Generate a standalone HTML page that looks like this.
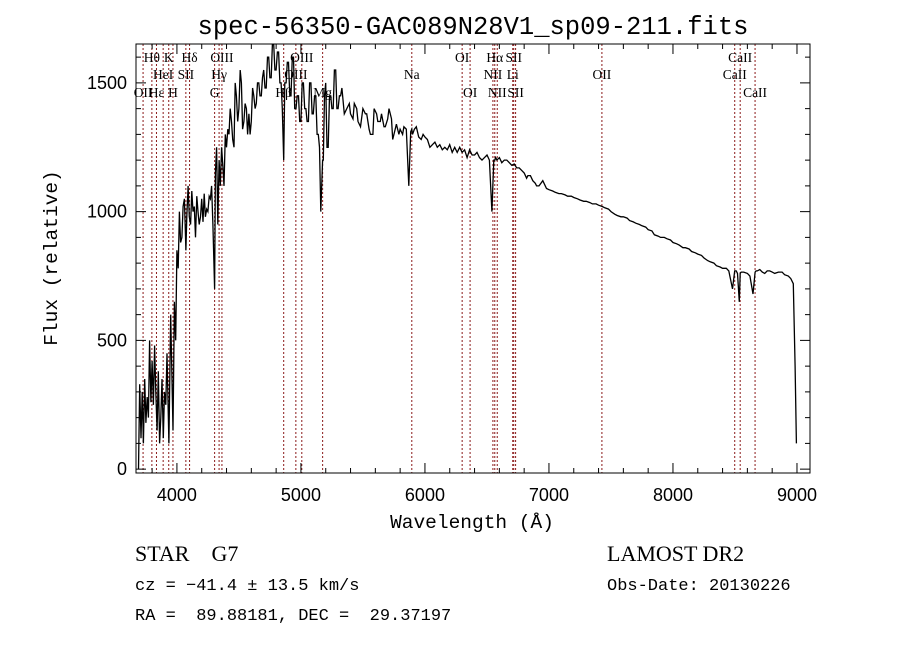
<!DOCTYPE html>
<html><head><meta charset="utf-8"><style>
body{margin:0;background:#fff;}
svg text{fill:#000;white-space:pre;}
</style></head><body>
<svg id="c" width="900" height="649" xmlns="http://www.w3.org/2000/svg">
<rect width="900" height="649" fill="#fff"/>
<text x="473" y="34" text-anchor="middle" font-family="Liberation Mono, monospace" font-size="25.5">spec-56350-GAC089N28V1_sp09-211.fits</text>
<text x="472" y="528" text-anchor="middle" font-family="Liberation Mono, monospace" font-size="19.5">Wavelength (Å)</text>
<text transform="translate(57,258) rotate(-90)" text-anchor="middle" font-family="Liberation Mono, monospace" font-size="19.5">Flux (relative)</text>
<text x="135" y="561" font-family="Liberation Serif, serif" font-size="22">STAR    G7</text>
<text x="135" y="590" font-family="Liberation Mono, monospace" font-size="17">cz = −41.4 ± 13.5 km/s</text>
<text x="135" y="620" font-family="Liberation Mono, monospace" font-size="17">RA =  89.88181, DEC =  29.37197</text>
<text x="607" y="561" font-family="Liberation Serif, serif" font-size="22">LAMOST DR2</text>
<text x="607" y="590" font-family="Liberation Mono, monospace" font-size="17">Obs-Date: 20130226</text>
<g id="plot"></g>
</svg>
<script>
const wave=[3690,3700,3710,3720,3730,3740,3750,3760,3770,3780,3790,3800,3810,3820,3830,3840,3850,3860,3870,3880,3890,3900,3910,3920,3935,3950,3968,3980,3990,4000,4010,4020,4030,4040,4050,4060,4072,4080,4090,4100,4110,4120,4130,4140,4150,4160,4170,4180,4190,4200,4210,4220,4230,4240,4250,4260,4270,4280,4290,4304,4310,4320,4330,4340,4350,4360,4370,4380,4390,4400,4410,4420,4430,4440,4450,4460,4470,4480,4490,4500,4510,4520,4530,4540,4550,4560,4570,4580,4590,4600,4610,4620,4630,4640,4650,4660,4670,4680,4690,4700,4710,4720,4730,4740,4750,4760,4770,4780,4790,4800,4810,4820,4830,4840,4850,4861,4870,4880,4890,4900,4910,4920,4930,4940,4950,4960,4970,4980,4990,5000,5010,5020,5030,5040,5050,5060,5070,5080,5090,5100,5110,5120,5130,5140,5150,5160,5175,5180,5190,5200,5210,5220,5230,5240,5250,5260,5270,5280,5290,5300,5310,5320,5330,5350,5370,5390,5400,5420,5430,5450,5460,5480,5500,5520,5530,5550,5560,5580,5590,5610,5620,5640,5650,5670,5680,5700,5710,5730,5740,5760,5770,5790,5800,5820,5830,5850,5870,5885,5894,5900,5915,5930,5950,5970,5985,6000,6020,6040,6060,6080,6100,6120,6140,6160,6180,6200,6220,6240,6260,6280,6300,6320,6340,6360,6380,6400,6420,6440,6460,6480,6500,6520,6540,6555,6563,6570,6580,6600,6620,6640,6660,6680,6700,6720,6740,6760,6780,6800,6820,6830,6850,6870,6890,6900,6920,6950,6980,7000,7030,7050,7080,7100,7130,7150,7180,7200,7230,7250,7280,7300,7330,7350,7380,7400,7430,7450,7480,7500,7530,7550,7580,7600,7630,7650,7680,7700,7730,7750,7780,7800,7830,7850,7880,7900,7930,7950,7980,8000,8030,8050,8080,8100,8130,8150,8180,8200,8230,8250,8280,8300,8330,8350,8380,8400,8430,8450,8480,8498,8510,8520,8535,8542,8550,8570,8600,8620,8645,8662,8670,8680,8700,8720,8740,8760,8780,8800,8820,8850,8880,8900,8930,8950,8970,8985,8995,9000];
const flux=[0,330,120,300,100,350,180,280,200,500,260,420,250,480,300,150,380,100,200,350,120,300,250,450,100,600,150,650,500,850,780,1000,880,900,1020,1050,850,980,1100,980,950,1080,1000,1020,900,1060,1000,950,980,1050,960,1070,980,1010,1000,1060,1050,1100,950,700,1150,1250,950,1200,1100,1250,1180,1100,1300,1250,1320,1300,1400,1350,1280,1250,1500,1450,1350,1400,1550,1500,1320,1350,1420,1400,1300,1380,1300,1350,1480,1450,1400,1420,1500,1500,1450,1450,1520,1550,1480,1480,1600,1600,1520,1520,1650,1650,1550,1550,1620,1620,1500,1500,1400,1200,1500,1500,1580,1580,1450,1450,1600,1600,1400,1400,1450,1450,1350,1350,1500,1500,1400,1400,1350,1350,1500,1500,1380,1380,1450,1450,1300,1300,1250,1000,1200,1200,1450,1500,1250,1250,1450,1450,1400,1400,1550,1550,1400,1400,1450,1450,1480,1380,1400,1420,1380,1360,1420,1400,1350,1330,1400,1380,1380,1320,1300,1300,1400,1380,1350,1350,1380,1330,1330,1360,1400,1360,1280,1320,1340,1300,1320,1300,1330,1320,1100,1310,1320,1300,1320,1330,1290,1280,1300,1290,1280,1250,1260,1270,1250,1260,1240,1250,1240,1260,1230,1250,1230,1250,1230,1240,1210,1240,1220,1220,1230,1210,1200,1210,1220,1200,1000,1200,1200,1210,1200,1210,1190,1200,1200,1190,1180,1185,1170,1170,1160,1150,1130,1140,1140,1120,1110,1100,1100,1120,1090,1085,1080,1075,1070,1070,1065,1060,1060,1055,1050,1045,1040,1040,1035,1030,1030,1025,1020,1015,1010,1000,990,985,980,980,975,965,960,955,950,945,940,930,925,910,905,900,900,895,890,880,875,870,860,860,855,845,840,835,830,820,810,805,800,790,785,780,780,770,700,770,770,760,650,760,765,765,760,750,680,765,770,770,775,765,760,770,770,765,760,765,765,755,750,740,720,400,100];
const lineWave=[3727,3798,3835,3889,3934,3968,4072,4102,4304,4340,4363,4861,4959,5007,5175,5894,6300,6364,6548,6563,6583,6708,6716,6731,7427,8498,8542,8662];
const labels=[["Hθ",3798,0],["K",3934,0],["Hδ",4102,0],["OIII",4363,0],["OIII",5007,0],["OI",6300,0],["Hα",6563,0],["SII",6716,0],["CaII",8542,0],
["HeI",3889,1],["SII",4072,1],["Hγ",4340,1],["OIII",4959,1],["Na",5894,1],["NII",6548,1],["Li",6708,1],["OII",7427,1],["CaII",8498,1],
["OII",3727,2],["Hε",3835,2],["H",3968,2],["G",4304,2],["Hβ",4861,2],["Mg",5175,2],["OI",6364,2],["NII",6583,2],["SII",6731,2],["CaII",8662,2]];
const xTicks=[4000,5000,6000,7000,8000,9000];
const yTicks=[0,500,1000,1500];

const L=136,R=810,T=44,B=473;
const xMin=3670,xMax=9105,yMin=-15,yMax=1651;
const sx=w=>L+(w-xMin)/(xMax-xMin)*(R-L);
const sy=f=>B-(f-yMin)/(yMax-yMin)*(B-T);
const NS="http://www.w3.org/2000/svg";
const g=document.getElementById('plot');
function mk(tag,attrs,parent){const e=document.createElementNS(NS,tag);for(const k in attrs)e.setAttribute(k,attrs[k]);(parent||g).appendChild(e);return e;}

lineWave.forEach(w=>{
  const e=mk('line',{x1:sx(w),x2:sx(w),y1:T,y2:B,stroke:'#8b1a1a','stroke-width':1,'stroke-dasharray':'2,2'});
  
  
});
const rowY=[62,79,97];
labels.forEach(l=>{
  const t=mk('text',{x:sx(l[1]),y:rowY[l[2]],'text-anchor':'middle','font-family':'Liberation Serif, serif','font-size':13.5});
  t.textContent=l[0];
  
  
});
let d='';
wave.forEach((w,i)=>{d+=(i?'L':'M')+sx(w).toFixed(1)+','+sy(flux[i]).toFixed(1);});
const p=mk('path',{d:d,fill:'none',stroke:'#000','stroke-width':1.3,'stroke-linejoin':'miter'});



const frame=mk('rect',{x:L,y:T,width:R-L,height:B-T,fill:'none',stroke:'#000','stroke-width':1});


for(let w=3800;w<=9100;w+=200){
  const major=w%1000===0,len=major?10:5;
  mk('line',{x1:sx(w),x2:sx(w),y1:B,y2:B-len,stroke:'#000'});
  mk('line',{x1:sx(w),x2:sx(w),y1:T,y2:T+len,stroke:'#000'});
}
for(let f=0;f<=1600;f+=100){
  const major=f%500===0,len=major?10:5;
  mk('line',{x1:L,x2:L+len,y1:sy(f),y2:sy(f),stroke:'#000'});
  mk('line',{x1:R,x2:R-len,y1:sy(f),y2:sy(f),stroke:'#000'});
}
xTicks.forEach(v=>{
  const t=mk('text',{x:sx(v),y:501,'text-anchor':'middle','font-family':'Liberation Sans, sans-serif','font-size':18});
  t.textContent=v;
  
  
});
yTicks.forEach(v=>{
  const t=mk('text',{x:127,y:sy(v)+6,'text-anchor':'end','font-family':'Liberation Sans, sans-serif','font-size':18});
  t.textContent=v;
  
  
});
</script>
</body></html>
